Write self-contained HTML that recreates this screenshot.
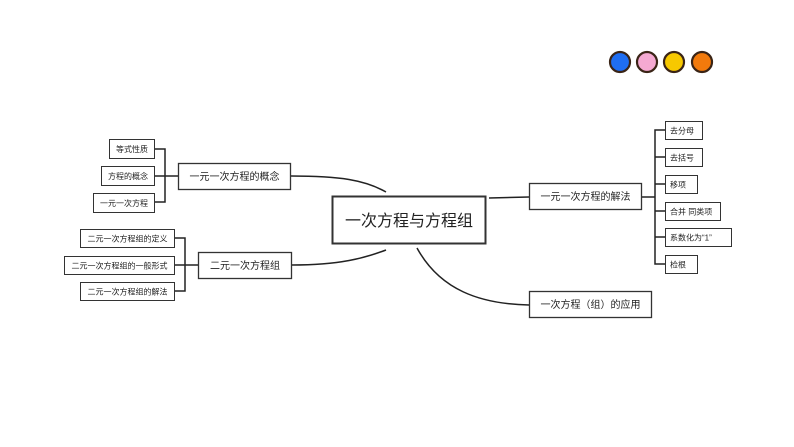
<!DOCTYPE html>
<html><head><meta charset="utf-8"><style>
html,body{margin:0;padding:0;background:#fff;}
svg{display:block}
text{font-family:"Liberation Sans","Noto Sans CJK SC",sans-serif;fill:#222;}
</style></head><body>
<svg width="794" height="447" viewBox="0 0 794 447" xmlns="http://www.w3.org/2000/svg">
<g fill="none" stroke="#222" stroke-width="1.5">
<path d="M291 176 C340 176 365 180 386 192"/>
<path d="M292 265 C340 265 365 258 386 250"/>
<path d="M417 248 C440 290 480 304 529 305"/>
<path d="M489 198 L529 197"/>
<path d="M155 149 H165 V202 H155 M155 176 H178"/>
<path d="M175 238 H185 V291 H175 M175 265 H198"/>
<path d="M641 197 H655 M665 130 H655 V264 H665 M655 157 H665 M655 184 H665 M655 211 H665 M655 237 H665"/>
</g>
<g fill="#fff" stroke="#333" stroke-width="1">
<rect x="332.5" y="196.5" width="153" height="47" stroke-width="2"/>
<rect x="178.5" y="163.5" width="112" height="26" stroke-width="1.3"/>
<rect x="198.5" y="252.5" width="93" height="26" stroke-width="1.3"/>
<rect x="529.5" y="183.5" width="112" height="26" stroke-width="1.3"/>
<rect x="529.5" y="291.5" width="122" height="26" stroke-width="1.3"/>
<rect x="109.5" y="139.5" width="45" height="19"/>
<rect x="101.5" y="166.5" width="53" height="19"/>
<rect x="93.5" y="193.5" width="61" height="19"/>
<rect x="80.5" y="229.5" width="94" height="18"/>
<rect x="64.5" y="256.5" width="110" height="18"/>
<rect x="80.5" y="282.5" width="94" height="18"/>
<rect x="665.5" y="121.5" width="37" height="18"/>
<rect x="665.5" y="148.5" width="37" height="18"/>
<rect x="665.5" y="175.5" width="32" height="18"/>
<rect x="665.5" y="202.5" width="55" height="18"/>
<rect x="665.5" y="228.5" width="66" height="18"/>
<rect x="665.5" y="255.5" width="32" height="18"/>
</g>
<text x="409" y="226" font-size="16" text-anchor="middle">一次方程与方程组</text>
<g font-size="10" text-anchor="middle">
<text x="234.5" y="180">一元一次方程的概念</text>
<text x="245" y="269">二元一次方程组</text>
<text x="585.5" y="200">一元一次方程的解法</text>
<text x="590.5" y="308">一次方程（组）的应用</text>
</g>
<g font-size="8" text-anchor="middle">
<text x="132" y="152">等式性质</text>
<text x="128" y="179">方程的概念</text>
<text x="124" y="206">一元一次方程</text>
<text x="127.5" y="241.5">二元一次方程组的定义</text>
<text x="119.5" y="268.5">二元一次方程组的一般形式</text>
<text x="127.5" y="294.5">二元一次方程组的解法</text>
</g>
<g font-size="8">
<text x="670" y="133.5">去分母</text>
<text x="670" y="160.5">去括号</text>
<text x="670" y="187.5">移项</text>
<text x="670" y="214.5">合并 同类项</text>
<text x="670" y="240.5">系数化为“1”</text>
<text x="670" y="267.5">检根</text>
</g>
<g stroke="#3a2416" stroke-width="2.2">
<circle cx="620" cy="62" r="10" fill="#1f6ef2"/>
<circle cx="647" cy="62" r="10" fill="#f5a9d2"/>
<circle cx="674" cy="62" r="10" fill="#f7c800"/>
<circle cx="702" cy="62" r="10" fill="#f27a0c"/>
</g>
</svg>
</body></html>
